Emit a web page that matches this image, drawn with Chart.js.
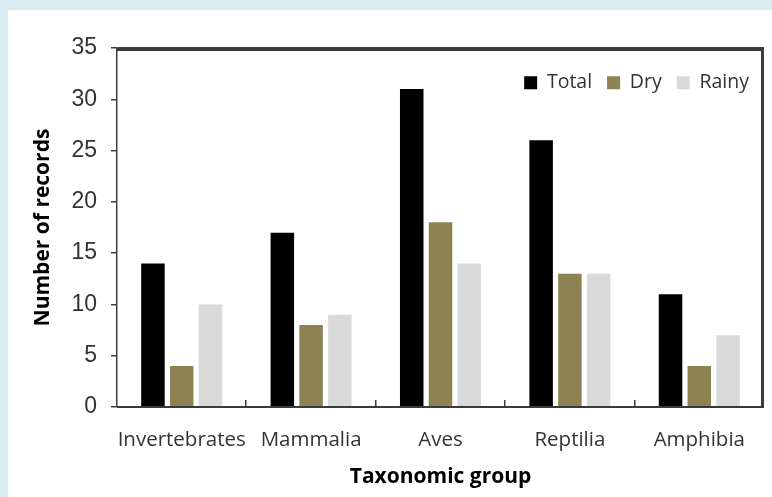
<!DOCTYPE html>
<html>
<head>
<meta charset="utf-8">
<script src="https://cdn.jsdelivr.net/npm/chart.js@4"></script>
<style>
  html, body { margin: 0; padding: 0; background: #d8ecf1; }
  #panel { position: absolute; left: 8px; top: 10px; width: 764px; height: 487px; background: #fff; }
  canvas { display: block; }
</style>
</head>
<body>
<div id="panel"><canvas id="chart" width="764" height="487"></canvas></div>
<script>
const groups = ['Invertebrates', 'Mammalia', 'Aves', 'Reptilia', 'Amphibia'];
const totalRecords = [14, 17, 31, 26, 11];
const dryRecords = [4, 8, 18, 13, 4];
const rainyRecords = [10, 9, 14, 13, 7];

const axisColor = '#404040';

// legend sits inside the plot, so it takes no layout height
const framePlugin = {
    id: 'frame',
    beforeLayout(chart) {
        const lg = chart.legend;
        if (lg && !lg._noHeight) {
            const fit = lg.fit.bind(lg);
            lg.fit = function () { fit(); this._realH = this.height; this.height = 0; };
            lg._noHeight = true;
        }
    },
    afterLayout(chart) {
        const lg = chart.legend;
        lg.top = chart.chartArea.top + 10;
        lg.bottom = lg.top + lg._realH;
    },
    afterDraw(chart) {
        const ctx = chart.ctx;
        const ca = chart.chartArea;
        const x = chart.scales.x;
        ctx.save();
        ctx.fillStyle = '#3a3a3a';
        ctx.fillRect(ca.left, ca.top, ca.right - ca.left, 3);
        ctx.fillRect(ca.right - 3, ca.top, 3, ca.bottom - ca.top);
        ctx.fillRect(ca.left, ca.bottom - 1, ca.right - ca.left, 2);
        for (let i = 0; i < groups.length - 1; i++) {
            const px = Math.round((x.getPixelForValue(i) + x.getPixelForValue(i + 1)) / 2);
            ctx.fillRect(px - 1, ca.bottom - 7, 1.5, 7);
        }
        ctx.restore();
    }
};

new Chart(document.getElementById('chart'), {
    type: 'bar',
    data: {
        labels: groups,
        datasets: [
            { label: 'Total', data: totalRecords, backgroundColor: '#000000' },
            { label: 'Dry', data: dryRecords, backgroundColor: '#8d8352' },
            { label: 'Rainy', data: rainyRecords, backgroundColor: '#d9d9d9' }
        ]
    },
    options: {
        responsive: false,
        animation: false,
        categoryPercentage: 0.667,
        barPercentage: 0.817,
        layout: { padding: { top: 38, right: 8, left: 0, bottom: 0 } },
        scales: {
            x: {
                grid: { display: false },
                border: { display: false },
                ticks: { color: '#333', padding: 13, maxRotation: 0, autoSkip: false, font: { family: 'Open Sans', size: 20.5 } },
                title: {
                    display: true,
                    text: 'Taxonomic group',
                    color: '#000',
                    padding: 7,
                    font: { family: 'Open Sans', size: 21, weight: 'bold' }
                },
                afterFit: scale => { scale.height = 90; }
            },
            y: {
                min: 0,
                max: 35,
                ticks: { stepSize: 5, color: '#333', padding: 14, font: { family: 'Liberation Sans', size: 23 } },
                grid: {
                    drawOnChartArea: true,
                    tickLength: 6,
                    lineWidth: 1.5,
                    tickColor: axisColor,
                    // only the top gridline shows, closing the box
                    color: c => (c.tick && c.tick.value === 35 ? axisColor : 'rgba(0,0,0,0)')
                },
                border: { color: axisColor, width: 1.5 },
                title: {
                    display: true,
                    text: 'Number of records',
                    color: '#000',
                    padding: 22,
                    font: { family: 'Open Sans', size: 21, weight: 'bold' }
                },
                afterFit: scale => { scale.width = 109; }
            }
        },
        plugins: {
            legend: {
                position: 'top',
                align: 'end',
                labels: {
                    boxWidth: 13,
                    boxHeight: 13,
                    padding: 15,
                    color: '#333',
                    font: { family: 'Open Sans', size: 19.5 }
                }
            },
            tooltip: { enabled: false }
        }
    },
    plugins: [framePlugin]
});
</script>
</body>
</html>
